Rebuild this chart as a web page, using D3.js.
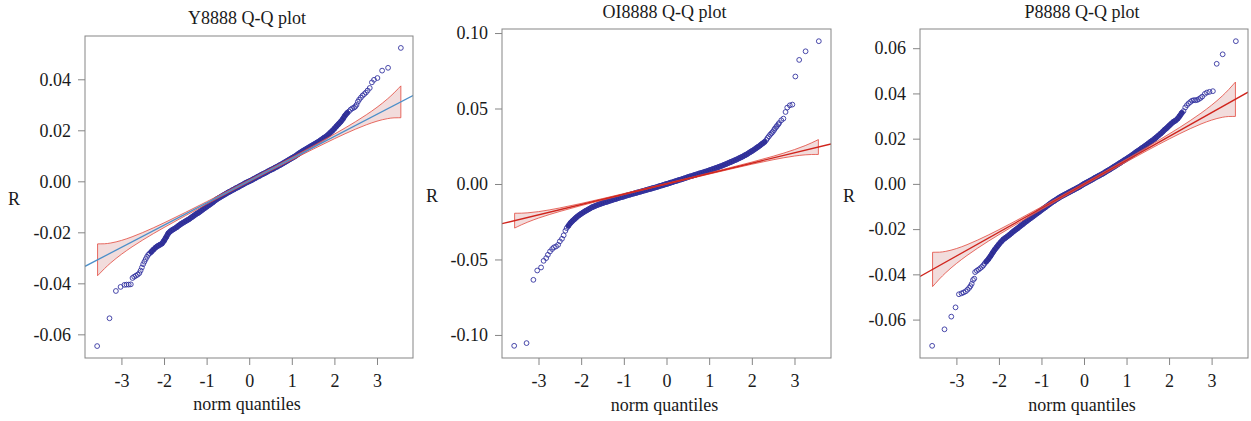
<!DOCTYPE html>
<html>
<head>
<meta charset="utf-8">
<script src="https://cdn.jsdelivr.net/npm/d3@7"></script>
<style>
    body { margin: 0; background: #fff; }
</style>
</head>
<body>
<div id="chart"></div>
<script>
// theoretical quantiles of the dense middle part (shared by all three plots)
var gridQ = [-2.30,-2.25,-2.20,-2.15,-2.10,-2.05,-2.00,-1.95,-1.90,-1.85,-1.80,-1.75,-1.70,-1.65,-1.60,-1.55,-1.50,-1.45,-1.40,-1.35,-1.30,-1.25,-1.20,-1.15,-1.10,-1.05,-1.00,-0.95,-0.90,-0.85,-0.80,-0.75,-0.70,-0.65,-0.60,-0.55,-0.50,-0.45,-0.40,-0.35,-0.30,-0.25,-0.20,-0.15,-0.10,-0.05,0.00,0.05,0.10,0.15,0.20,0.25,0.30,0.35,0.40,0.45,0.50,0.55,0.60,0.65,0.70,0.75,0.80,0.85,0.90,0.95,1.00,1.05,1.10,1.15,1.20,1.25,1.30,1.35,1.40,1.45,1.50,1.55,1.60,1.65,1.70,1.75,1.80,1.85,1.90,1.95,2.00,2.05,2.10,2.15,2.20,2.25,2.30]

// quantiles where the confidence envelope is given
var envQ = [-3.56,-3.50,-3.40,-3.25,-3.00,-2.75,-2.50,-2.00,-1.50,-1.00,-0.50,0.00,0.50,1.00,1.50,2.00,2.50,2.75,3.00,3.25,3.40,3.50,3.56]

var xTicks = [-3, -2, -1, 0, 1, 2, 3]

// ---- Y8888
var y8888LowQ = [-3.57,-3.28,-3.13,-3.02,-2.93,-2.88,-2.83,-2.78,-2.74,-2.70,-2.66,-2.62,-2.58,-2.55,-2.52,-2.49,-2.46,-2.43,-2.40,-2.37,-2.34]
var y8888LowR = [-0.0646,-0.0537,-0.0430,-0.0414,-0.0406,-0.0405,-0.0405,-0.0404,-0.0379,-0.0374,-0.0370,-0.0366,-0.0360,-0.0350,-0.0338,-0.0325,-0.0315,-0.0305,-0.0296,-0.0288,-0.0283]
var y8888Mid = [-0.0277,-0.0268,-0.0260,-0.0254,-0.0249,-0.0244,-0.0233,-0.0219,-0.0204,-0.0196,-0.0190,-0.0185,-0.0180,-0.0173,-0.0167,-0.0162,-0.0157,-0.0152,-0.0147,-0.0141,-0.0135,-0.0129,-0.0124,-0.0118,-0.0112,-0.0106,-0.0100,-0.0094,-0.0088,-0.0082,-0.0075,-0.0069,-0.0064,-0.0059,-0.0054,-0.0049,-0.0044,-0.0040,-0.0035,-0.0031,-0.0026,-0.0022,-0.0017,-0.0013,-0.0008,-0.0004,0.0000,0.0004,0.0009,0.0013,0.0018,0.0022,0.0027,0.0031,0.0035,0.0040,0.0044,0.0048,0.0053,0.0057,0.0062,0.0066,0.0071,0.0076,0.0081,0.0086,0.0091,0.0096,0.0101,0.0107,0.0113,0.0118,0.0123,0.0128,0.0133,0.0138,0.0143,0.0148,0.0153,0.0158,0.0164,0.0170,0.0175,0.0182,0.0190,0.0198,0.0207,0.0216,0.0225,0.0234,0.0245,0.0258,0.0268]
var y8888HighQ = [2.34,2.38,2.42,2.46,2.49,2.52,2.55,2.58,2.62,2.66,2.70,2.74,2.78,2.83,2.88,2.93,3.01,3.12,3.26,3.56]
var y8888HighR = [0.0274,0.0281,0.0286,0.0289,0.0293,0.0300,0.0312,0.0320,0.0328,0.0336,0.0342,0.0348,0.0356,0.0366,0.0388,0.0398,0.0405,0.0434,0.0445,0.0523]
var y8888Env = [0.00624,0.00573,0.00489,0.00389,0.00272,0.00197,0.00147,0.00091,0.00064,0.00050,0.00043,0.00041,0.00043,0.00050,0.00064,0.00091,0.00147,0.00197,0.00272,0.00389,0.00489,0.00573,0.00624]
var y8888Fit = [0.0002, 0.0087]   // intercept, slope
var y8888Ticks = [-0.06, -0.04, -0.02, 0, 0.02, 0.04]

// ---- OI8888
var oi8888LowQ = [-3.57,-3.28,-3.12,-3.03,-2.94,-2.88,-2.82,-2.78,-2.73,-2.68,-2.64,-2.59,-2.54,-2.50,-2.45,-2.41,-2.37,-2.34]
var oi8888LowR = [-0.1072,-0.1054,-0.0635,-0.0573,-0.0553,-0.0509,-0.0491,-0.0469,-0.0447,-0.0431,-0.0420,-0.0414,-0.0403,-0.0380,-0.0363,-0.0340,-0.0310,-0.0292]
var oi8888Mid = [-0.0277,-0.0258,-0.0244,-0.0231,-0.0218,-0.0207,-0.0197,-0.0188,-0.0179,-0.0171,-0.0163,-0.0155,-0.0149,-0.0143,-0.0137,-0.0132,-0.0127,-0.0122,-0.0118,-0.0113,-0.0109,-0.0104,-0.0100,-0.0095,-0.0091,-0.0087,-0.0083,-0.0078,-0.0074,-0.0070,-0.0066,-0.0062,-0.0058,-0.0054,-0.0050,-0.0046,-0.0042,-0.0038,-0.0034,-0.0030,-0.0026,-0.0022,-0.0018,-0.0013,-0.0009,-0.0004,0.0000,0.0004,0.0009,0.0013,0.0018,0.0022,0.0027,0.0031,0.0036,0.0040,0.0045,0.0050,0.0054,0.0059,0.0063,0.0068,0.0072,0.0076,0.0081,0.0085,0.0090,0.0095,0.0100,0.0105,0.0110,0.0116,0.0121,0.0127,0.0133,0.0139,0.0145,0.0151,0.0157,0.0163,0.0170,0.0177,0.0184,0.0192,0.0200,0.0209,0.0218,0.0227,0.0237,0.0247,0.0257,0.0268,0.0279]
var oi8888HighQ = [2.34,2.37,2.40,2.43,2.46,2.49,2.52,2.54,2.57,2.59,2.62,2.64,2.69,2.74,2.79,2.83,2.89,2.95,3.02,3.11,3.26,3.57]
var oi8888HighR = [0.0292,0.0305,0.0316,0.0327,0.0336,0.0345,0.0357,0.0367,0.0377,0.0385,0.0395,0.0404,0.0422,0.0433,0.0477,0.0506,0.0521,0.0526,0.0712,0.0822,0.0879,0.0946]
var oi8888Env = [0.00492,0.00451,0.00385,0.00306,0.00214,0.00155,0.00116,0.00071,0.00050,0.00039,0.00034,0.00032,0.00034,0.00039,0.00050,0.00071,0.00116,0.00155,0.00214,0.00306,0.00385,0.00451,0.00492]
var oi8888Fit = [0.0001, 0.00685]
var oi8888Ticks = [-0.10, -0.05, 0, 0.05, 0.10]

// ---- P8888
var p8888LowQ = [-3.57,-3.28,-3.12,-3.02,-2.94,-2.88,-2.83,-2.78,-2.74,-2.70,-2.67,-2.64,-2.61,-2.58,-2.56,-2.52,-2.48,-2.44,-2.40,-2.37,-2.34]
var p8888LowR = [-0.0716,-0.0643,-0.0587,-0.0546,-0.0488,-0.0484,-0.0480,-0.0475,-0.0468,-0.0460,-0.0452,-0.0442,-0.0425,-0.0419,-0.0390,-0.0384,-0.0379,-0.0373,-0.0367,-0.0361,-0.0353]
var p8888Mid = [-0.0344,-0.0333,-0.0320,-0.0305,-0.0291,-0.0279,-0.0267,-0.0256,-0.0246,-0.0239,-0.0232,-0.0225,-0.0217,-0.0209,-0.0202,-0.0195,-0.0187,-0.0180,-0.0172,-0.0165,-0.0158,-0.0151,-0.0144,-0.0137,-0.0130,-0.0123,-0.0116,-0.0109,-0.0102,-0.0095,-0.0088,-0.0081,-0.0075,-0.0069,-0.0063,-0.0057,-0.0052,-0.0047,-0.0042,-0.0037,-0.0032,-0.0027,-0.0022,-0.0017,-0.0012,-0.0006,0.0000,0.0005,0.0010,0.0015,0.0020,0.0026,0.0031,0.0036,0.0041,0.0046,0.0052,0.0058,0.0063,0.0069,0.0075,0.0081,0.0087,0.0093,0.0099,0.0105,0.0111,0.0117,0.0123,0.0130,0.0137,0.0144,0.0150,0.0157,0.0163,0.0170,0.0177,0.0184,0.0191,0.0198,0.0206,0.0214,0.0222,0.0231,0.0240,0.0248,0.0257,0.0266,0.0274,0.0280,0.0288,0.0300,0.0314]
var p8888HighQ = [2.34,2.38,2.42,2.46,2.50,2.54,2.58,2.62,2.66,2.70,2.74,2.78,2.84,2.89,2.95,3.03,3.12,3.26,3.57]
var p8888HighR = [0.0322,0.0338,0.0348,0.0356,0.0362,0.0368,0.0370,0.0370,0.0371,0.0375,0.0380,0.0386,0.0398,0.0404,0.0407,0.0410,0.0531,0.0573,0.0631]
var p8888Env = [0.00759,0.00697,0.00594,0.00472,0.00331,0.00239,0.00179,0.00110,0.00077,0.00060,0.00052,0.00050,0.00052,0.00060,0.00077,0.00110,0.00179,0.00239,0.00331,0.00472,0.00594,0.00697,0.00759]
var p8888Fit = [-0.0002, 0.01057]
var p8888Ticks = [-0.06, -0.04, -0.02, 0, 0.02, 0.04, 0.06]

var panels = [
    { id: "y", title: "Y8888 Q-Q plot", lowQ: y8888LowQ, lowR: y8888LowR, mid: y8888Mid, highQ: y8888HighQ, highR: y8888HighR,
      env: y8888Env, fit: y8888Fit, ticks: y8888Ticks, lineColor: "#4b8fc9",
      box: { left: 85, right: 413, top: 36, bottom: 358 }, titleY: 23.5, labelY: 410, rX: 14, rY: 205 },
    { id: "oi", title: "OI8888 Q-Q plot", lowQ: oi8888LowQ, lowR: oi8888LowR, mid: oi8888Mid, highQ: oi8888HighQ, highR: oi8888HighR,
      env: oi8888Env, fit: oi8888Fit, ticks: oi8888Ticks, lineColor: "#d0241c",
      box: { left: 502, right: 831, top: 29, bottom: 358 }, titleY: 17.5, labelY: 411, rX: 432, rY: 202 },
    { id: "p", title: "P8888 Q-Q plot", lowQ: p8888LowQ, lowR: p8888LowR, mid: p8888Mid, highQ: p8888HighQ, highR: p8888HighR,
      env: p8888Env, fit: p8888Fit, ticks: p8888Ticks, lineColor: "#d0241c",
      box: { left: 920, right: 1248, top: 29, bottom: 358 }, titleY: 17.5, labelY: 411, rX: 849, rY: 202 }
]

var serif = "'Liberation Serif', 'DejaVu Serif', 'Times New Roman', serif"

var svg = d3.select("#chart")
    .append("svg")
    .attr("width", 1251)
    .attr("height", 421)
    .style("font-family", serif)

function qqPanel(p) {
    var allQ = p.lowQ.concat(gridQ, p.highQ)
    var allR = p.lowR.concat(p.mid, p.highR)
    var pts = allQ.map(function (q, i) { return { q: q, r: allR[i] } })

    // R style: data range extended by 4%
    var qExt = d3.extent(allQ), rExt = d3.extent(allR)
    var qPad = (qExt[1] - qExt[0]) * 0.04, rPad = (rExt[1] - rExt[0]) * 0.04
    var x = d3.scaleLinear().domain([qExt[0] - qPad, qExt[1] + qPad]).range([p.box.left, p.box.right])
    var y = d3.scaleLinear().domain([rExt[0] - rPad, rExt[1] + rPad]).range([p.box.bottom, p.box.top])

    var g = svg.append("g")

    g.append("clipPath").attr("id", "clip-" + p.id)
        .append("rect")
        .attr("x", p.box.left).attr("y", p.box.top)
        .attr("width", p.box.right - p.box.left).attr("height", p.box.bottom - p.box.top)

    // the dense middle is heavily overplotted in the original: thick band under the circles
    g.append("path")
        .datum(gridQ)
        .attr("d", d3.line().x(q => x(q)).y((q, i) => y(p.mid[i])))
        .attr("fill", "none")
        .attr("stroke", "#2d2d8f")
        .attr("stroke-width", 5.5)
        .attr("stroke-linejoin", "round")
        .attr("stroke-linecap", "round")

    // points
    g.append("g").selectAll("circle")
        .data(pts)
        .join("circle")
        .attr("cx", d => x(d.q))
        .attr("cy", d => y(d.r))
        .attr("r", 2.4)
        .attr("fill", "none")
        .attr("stroke", "#3434a0")
        .attr("stroke-width", 0.9)

    // confidence envelope
    var fitAt = q => p.fit[0] + p.fit[1] * q
    var area = d3.area()
        .x((q, i) => x(q))
        .y0((q, i) => y(fitAt(q) - p.env[i]))
        .y1((q, i) => y(fitAt(q) + p.env[i]))
        .curve(d3.curveMonotoneX)
    g.append("path")
        .datum(envQ)
        .attr("d", area)
        .attr("fill", "#e9c4c4")
        .attr("fill-opacity", 0.6)
        .attr("stroke", "#e2483c")
        .attr("stroke-width", 0.8)

    // fitted line across the plot
    var xd = x.domain()
    g.append("line")
        .attr("clip-path", "url(#clip-" + p.id + ")")
        .attr("x1", x(xd[0])).attr("y1", y(fitAt(xd[0])))
        .attr("x2", x(xd[1])).attr("y2", y(fitAt(xd[1])))
        .attr("stroke", p.lineColor)
        .attr("stroke-width", 1.3)

    // axes
    var xAxis = g.append("g")
        .attr("transform", `translate(0,${p.box.bottom})`)
        .call(d3.axisBottom(x).tickValues(xTicks).tickSize(7).tickPadding(9).tickFormat(d => String(d)))
    var yAxis = g.append("g")
        .attr("transform", `translate(${p.box.left},0)`)
        .call(d3.axisLeft(y).tickValues(p.ticks).tickSize(7).tickPadding(7).tickFormat(d => d.toFixed(2)))

    ;[xAxis, yAxis].forEach(function (a) {
        a.select(".domain").remove()
        a.attr("font-family", serif).attr("font-size", 18)
        a.selectAll("line").attr("stroke", "#858585")
        a.selectAll("text").attr("fill", "#1a1a1a").style("font-family", serif)
    })

    g.append("rect")
        .attr("x", p.box.left).attr("y", p.box.top)
        .attr("width", p.box.right - p.box.left).attr("height", p.box.bottom - p.box.top)
        .attr("fill", "none")
        .attr("stroke", "#858585")
        .attr("stroke-width", 1)

    // labels
    var cx = (p.box.left + p.box.right) / 2
    var labels = [
        { x: cx - 2, y: p.titleY, t: p.title },
        { x: cx - 2, y: p.labelY, t: "norm quantiles" },
        { x: p.rX, y: p.rY, t: "R" }
    ]
    labels.forEach(function (l) {
        g.append("text")
            .attr("x", l.x).attr("y", l.y)
            .attr("text-anchor", "middle")
            .attr("fill", "#1a1a1a")
            .style("font-family", serif)
            .style("font-size", "18px")
            .text(l.t)
    })
}

panels.forEach(qqPanel)
</script>
</body>
</html>
